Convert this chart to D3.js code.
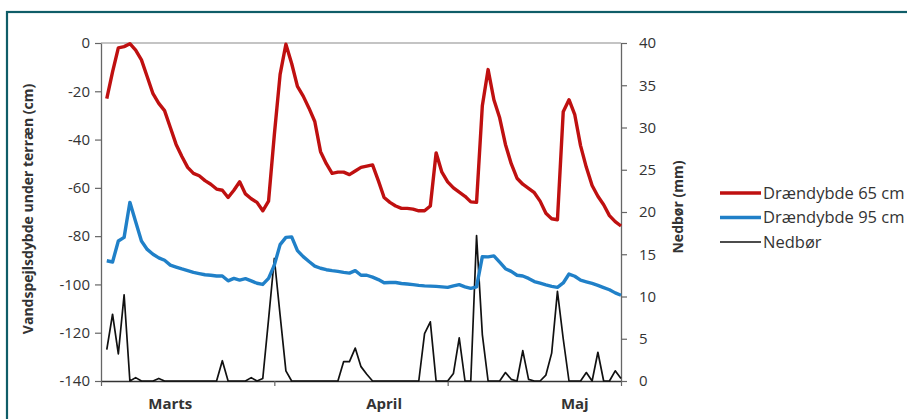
<!DOCTYPE html>
<html>
<head>
<meta charset="utf-8">
<script src="https://cdn.jsdelivr.net/npm/d3@7"></script>
<style>
  body { margin: 0; background: #fff; }
  svg text { font-family: "Open Sans", "Liberation Sans", sans-serif; }
</style>
</head>
<body>
<div id="root"></div>
<script>
// daily values, day 1..90
const days = d3.range(1, 91);

const drain65 = [
  -23, -12, -2, -1.5, -0.3, -3, -7, -14, -21, -25,
  -28, -35, -42, -47, -51.5, -54, -55, -57, -58.5, -60.5,
  -61, -64, -61, -57.5, -62.5, -64.5, -66, -69.5, -65.5, -38,
  -13, -0.5, -8.5, -18, -22, -27, -32.5, -45, -50, -54,
  -53.5, -53.5, -54.5, -53, -51.5, -51, -50.5, -57, -64, -66,
  -67.5, -68.5, -68.5, -68.8, -69.5, -69.5, -67.5, -45.5, -53.5, -57.5,
  -60, -61.8, -63.5, -65.8, -66, -26, -11, -23.5, -31, -42,
  -50, -56, -58.5, -60.2, -62, -65.5, -70.5, -72.8, -73.2, -28.5,
  -23.5, -29.7, -42.5, -51.5, -59, -63.5, -67, -71.5, -74, -75.8
];

const drain95 = [
  -90.2, -90.7, -82, -80.5, -66, -74, -82, -85.5, -87.5, -89,
  -90, -92, -92.8, -93.6, -94.3, -95, -95.5, -96, -96.2, -96.5,
  -96.5, -98.5, -97.5, -98.2, -97.6, -98.5, -99.5, -100, -97.5, -92,
  -83.5, -80.5, -80.3, -86, -88.5, -90.5, -92.4, -93.3, -93.9, -94.3,
  -94.6, -95, -95.3, -94.3, -96.2, -96.2, -97, -98, -99.3, -99.2,
  -99.2, -99.6, -99.8, -100.1, -100.4, -100.6, -100.7, -100.8, -101, -101.2,
  -100.6, -100.1, -101, -101.6, -101, -88.5, -88.6, -88.2, -90.8, -93.5,
  -94.6, -96.2, -96.5, -97.5, -98.8, -99.5, -100.2, -100.8, -101.2, -99.4,
  -95.7, -96.6, -98.2, -98.9, -99.6, -100.4, -101.3, -102.2, -103.5, -104.5
];

const nedbor = [
  3.7, 7.9, 3.2, 10.2, 0, 0.4, 0, 0, 0, 0.3,
  0, 0, 0, 0, 0, 0, 0, 0, 0, 0,
  2.4, 0, 0, 0, 0, 0.4, 0, 0.3, 7.3, 14.5,
  7.8, 1.2, 0, 0, 0, 0, 0, 0, 0, 0,
  0, 2.3, 2.3, 3.9, 1.7, 0.8, 0, 0, 0, 0,
  0, 0, 0, 0, 0, 5.6, 7.0, 0, 0, 0,
  0.9, 5.1, 0, 0, 17.2, 5.5, 0, 0, 0, 1.0,
  0.2, 0, 3.6, 0.2, 0, 0, 0.7, 3.3, 10.6, 5,
  0, 0, 0, 1.0, 0, 3.4, 0, 0, 1.2, 0.3
];

const monthLabels = ["Marts", "April", "Maj"];
const monthLabelDays = [12, 49, 82];
const monthTicks = [0, 30, 60, 90];
const leftTicks = [0, -20, -40, -60, -80, -100, -120, -140];
const rightTicks = [0, 5, 10, 15, 20, 25, 30, 35, 40];
const seriesNames = ["Drændybde 65 cm", "Drændybde 95 cm", "Nedbør"];

const width = 907, height = 419;
const plot = { left: 101, right: 621, top: 43, bottom: 381 };

const svg = d3.select("#root").append("svg")
  .attr("width", width)
  .attr("height", height);

svg.append("rect").attr("width", width).attr("height", height).attr("fill", "#fff");

// teal frame
svg.append("rect")
  .attr("x", 7).attr("y", 12)
  .attr("width", 1000).attr("height", 500)
  .attr("fill", "none")
  .attr("stroke", "#0f5d68")
  .attr("stroke-width", 2.2);

const x = d3.scaleLinear().domain([0, 90]).range([plot.left, plot.right]);
const yL = d3.scaleLinear().domain([-140, 0]).range([plot.bottom, plot.top]);
const yR = d3.scaleLinear().domain([0, 40]).range([plot.bottom, plot.top]);

// top border of plot
svg.append("line")
  .attr("x1", plot.left).attr("x2", plot.right)
  .attr("y1", plot.top).attr("y2", plot.top)
  .attr("stroke", "#8a8a8a").attr("stroke-width", 1.2);

// left axis (plain hyphen like the original)
const axL = svg.append("g")
  .attr("transform", `translate(${plot.left},0)`)
  .call(d3.axisLeft(yL).tickValues(leftTicks).tickSize(6).tickSizeOuter(0).tickPadding(5)
    .tickFormat(d => String(d)));

// right axis
const axR = svg.append("g")
  .attr("transform", `translate(${plot.right},0)`)
  .call(d3.axisRight(yR).tickValues(rightTicks).tickSize(6).tickSizeOuter(0).tickPadding(12));

// bottom axis
const axB = svg.append("g")
  .attr("transform", `translate(0,${plot.bottom})`)
  .call(d3.axisBottom(x).tickValues(monthTicks).tickSize(5).tickSizeOuter(0).tickFormat(""));

[axL, axR, axB].forEach(g => {
  g.select(".domain").attr("stroke", "#666").attr("stroke-width", 1.3);
  g.selectAll(".tick line").attr("stroke", "#666").attr("stroke-width", 1.2);
  g.selectAll("text").attr("font-size", 15).attr("fill", "#333");
});
axB.select(".domain").attr("stroke", "#333");

// month labels
svg.append("g").selectAll("text")
  .data(monthLabels)
  .join("text")
  .attr("x", (d, i) => x(monthLabelDays[i]))
  .attr("y", 409)
  .attr("text-anchor", "middle")
  .attr("font-size", 15)
  .attr("font-weight", "bold")
  .attr("fill", "#333")
  .text(d => d);

// axis titles
svg.append("text")
  .attr("transform", `translate(33,209) rotate(-90)`)
  .attr("text-anchor", "middle")
  .attr("font-size", 14)
  .attr("font-weight", "bold")
  .attr("fill", "#333")
  .text("Vandspejlsdybde under terræn (cm)");

svg.append("text")
  .attr("transform", `translate(683,207) rotate(-90)`)
  .attr("text-anchor", "middle")
  .attr("font-size", 14)
  .attr("font-weight", "bold")
  .attr("fill", "#333")
  .text("Nedbør (mm)");

// lines
const lineL = values => d3.line().x((d, i) => x(days[i])).y(d => yL(d))(values);
const lineR = values => d3.line().x((d, i) => x(days[i])).y(d => yR(d))(values);

svg.append("path").attr("d", lineR(nedbor))
  .attr("fill", "none").attr("stroke", "#111").attr("stroke-width", 1.7)
  .attr("stroke-linejoin", "round");

svg.append("path").attr("d", lineL(drain95))
  .attr("fill", "none").attr("stroke", "#2080c8").attr("stroke-width", 3.4)
  .attr("stroke-linejoin", "round");

svg.append("path").attr("d", lineL(drain65))
  .attr("fill", "none").attr("stroke", "#bf1010").attr("stroke-width", 3.4)
  .attr("stroke-linejoin", "round");

// legend
const legendColors = ["#bf1010", "#2080c8", "#111"];
const legendWidths = [3.4, 3.4, 1.7];
const legend = svg.append("g").attr("transform", "translate(720,193)");
const item = legend.selectAll("g")
  .data(seriesNames)
  .join("g")
  .attr("transform", (d, i) => `translate(0,${i * 24.5})`);
item.append("line")
  .attr("x1", 0).attr("x2", 41)
  .attr("stroke", (d, i) => legendColors[i])
  .attr("stroke-width", (d, i) => legendWidths[i]);
item.append("text")
  .attr("x", 43)
  .attr("dy", "0.35em")
  .attr("font-size", 16.5)
  .attr("fill", "#333")
  .text(d => d);
</script>
</body>
</html>
